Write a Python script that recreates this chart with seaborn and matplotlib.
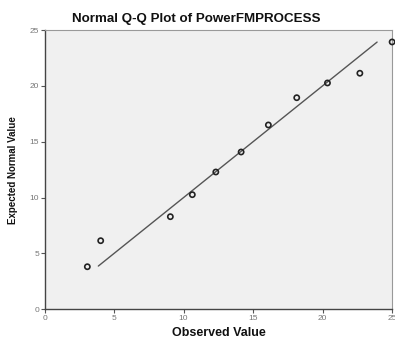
import matplotlib
matplotlib.use("Agg")
import matplotlib.pyplot as plt
import seaborn as sns
import pandas as pd

observed = [3.08, 4.04, 9.05, 10.63, 12.32, 14.14, 16.10, 18.14, 20.35, 22.68, 25.0]
expected = [3.81, 6.14, 8.29, 10.26, 12.29, 14.08, 16.50, 18.94, 20.26, 21.13, 23.93]
line_x = [3.87, 23.92]
line_y = [3.87, 23.92]
ticks = [0, 5, 10, 15, 20, 25]

sns.set_style("white")
plt.rcParams['font.family'] = ['Liberation Sans', 'DejaVu Sans']

fig = plt.figure(figsize=(3.95, 3.41), dpi=100)
ax = fig.add_axes([0.1127, 0.093, 0.88, 0.819])
ax.set_facecolor("#f0f0f0")

df = pd.DataFrame({"Observed": observed, "Expected": expected})
sns.lineplot(x=line_x, y=line_y, ax=ax, color="#555555", linewidth=1.0)
sns.scatterplot(data=df, x="Observed", y="Expected", ax=ax, s=14,
                marker="o", facecolor="none", edgecolor="#222222", linewidth=1.2,
                clip_on=False, zorder=5)

ax.set_xlim(0, 25)
ax.set_ylim(0, 25)
ax.set_xticks(ticks)
ax.set_yticks(ticks)
ax.tick_params(axis="both", which="major", direction="out", length=3, width=0.8,
               color="#555555", labelsize=6, labelcolor="#777777", pad=1,
               bottom=True, left=True)
for side in ["left", "bottom"]:
    ax.spines[side].set_color("#444444")
    ax.spines[side].set_linewidth(1.0)
for side in ["top", "right"]:
    ax.spines[side].set_color("#999999")
    ax.spines[side].set_linewidth(0.8)

ax.set_xlabel("")
ax.set_ylabel("")
fig.text(0.496, 0.945, "Normal Q-Q Plot of PowerFMPROCESS", ha="center", va="center",
         fontsize=9.6, fontweight="bold", color="#111111")
fig.text(0.554, 0.022, "Observed Value", ha="center", va="center",
         fontsize=9, fontweight="bold", color="#111111")
fig.text(0.033, 0.5, "Expected Normal Value", ha="center", va="center",
         rotation=90, fontsize=7, fontweight="bold", color="#111111")

fig.savefig("out.png", dpi=100, facecolor="white")
